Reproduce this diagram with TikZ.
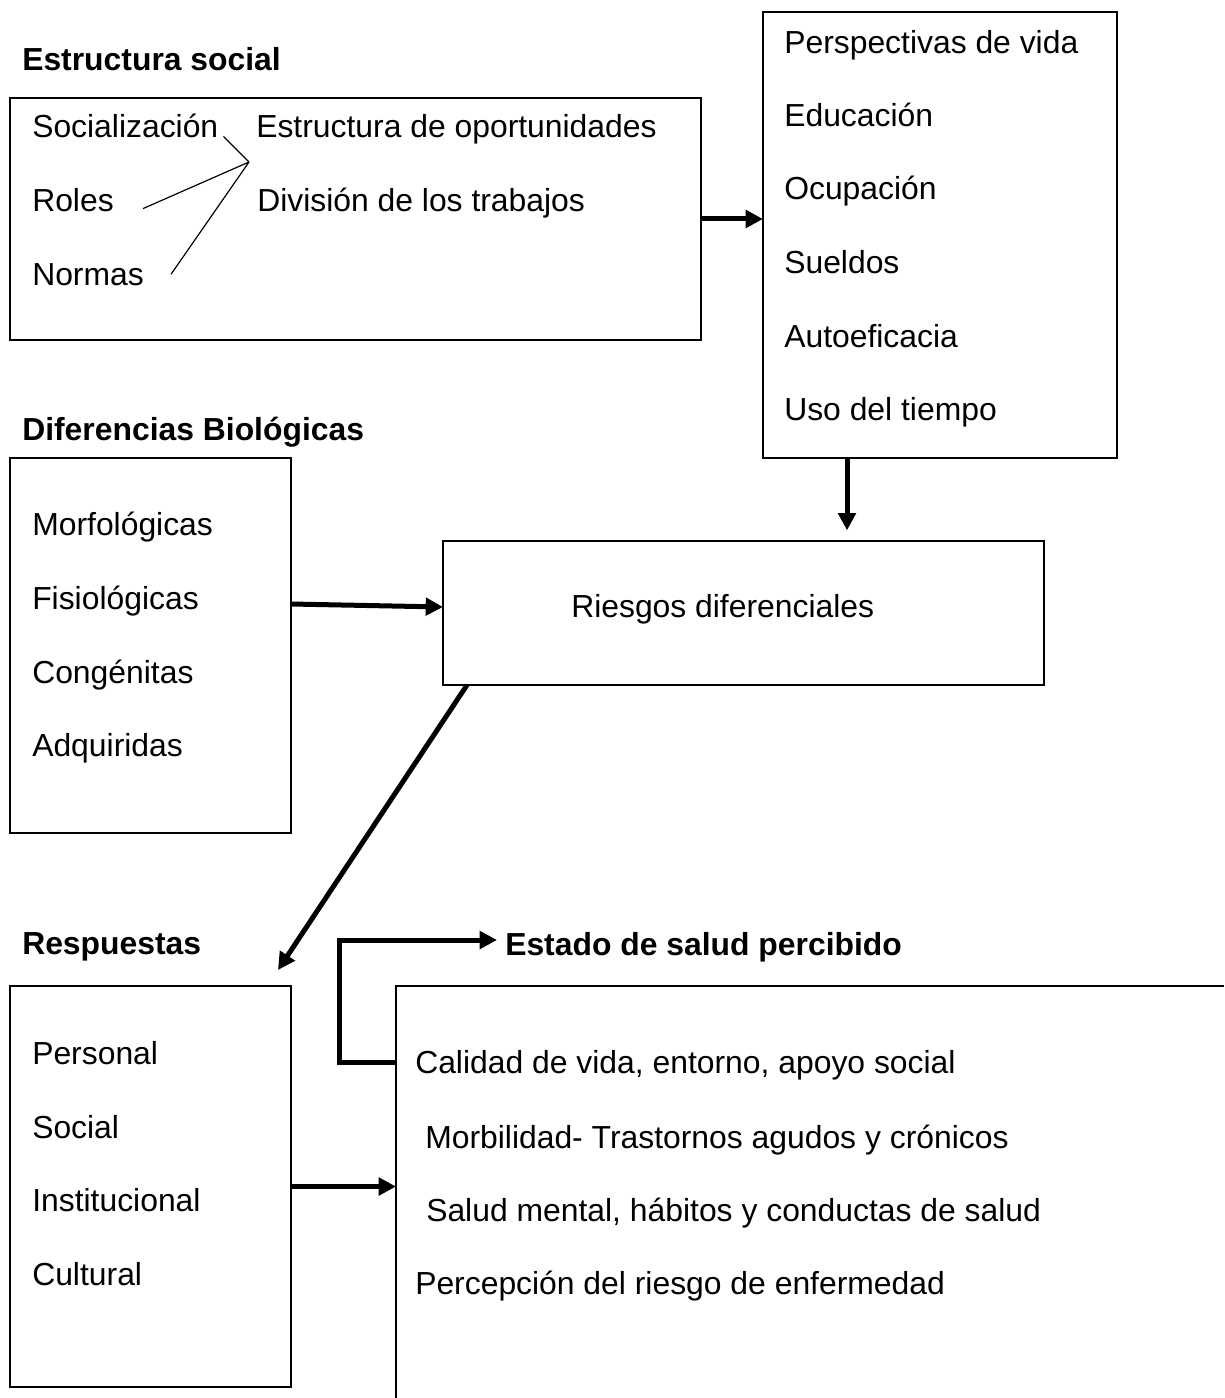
\documentclass[tikz,border=0pt]{standalone}
\usepackage{fontspec}
\setmainfont{Liberation Sans}
\usetikzlibrary{arrows.meta,calc}
\newcommand{\px}{0.75pt}

\begin{document}
\begin{tikzpicture}[x=0.75pt,y=0.75pt,yscale=-1,xscale=1]
\tikzset{
  box/.style={draw, line width=1.5pt, inner sep=0pt, outer sep=0pt, anchor=north west},
  lbl/.style={anchor=base west, inner sep=0pt, font=\fontsize{23.9}{28}\selectfont},
  hdr/.style={anchor=base west, inner sep=0pt, font=\fontsize{23.9}{28}\selectfont\bfseries},
  flow/.style={line width=3.75pt, -{Triangle[length=13pt,width=13pt]}},
  tie/.style={line width=0.9pt},
}
\useasboundingbox (0,0) rectangle (1224,1398);

%Shape: Rectangle [social]
\node [box, minimum width=691*\px, minimum height=242*\px] (social) at (10,98) {};
%Shape: Rectangle [perspectivas]
\node [box, minimum width=354*\px, minimum height=446*\px] (persp) at (763,12) {};
%Shape: Rectangle [biologicas]
\node [box, minimum width=281*\px, minimum height=375*\px] (dif) at (10,458) {};
%Shape: Rectangle [riesgos]
\node [box, minimum width=601*\px, minimum height=144*\px] (riesgos) at (443,541) {};
%Shape: Rectangle [respuestas]
\node [box, minimum width=281*\px, minimum height=401*\px] (resp) at (10,986) {};
%Shape: open box [salud]
\coordinate (saludNW) at (396,986);
\draw [line width=1.5pt] (1224,986) -- (saludNW) -- (396,1398);

% Text Node
\node [hdr] (hsocial) at (22,71) {Estructura social};
\node [lbl] (socz) at (32,138) {Socialización};
\node [lbl] (roles) at (32,212) {Roles};
\node [lbl] (normas) at (32,285) {Normas};
\node [lbl] (oport) at (256,138) {Estructura de oportunidades};
\node [lbl] (divis) at (257,212) {División de los trabajos};

% Text Node
\node [lbl] (pvida) at (784,54) {Perspectivas de vida};
\node [lbl] (educ) at (784,127) {Educación};
\node [lbl] (ocup) at (784,200) {Ocupación};
\node [lbl] (sueld) at (784,273) {Sueldos};
\node [lbl] (autoef) at (784,347) {Autoeficacia};
\node [lbl] (tiempo) at (784,420) {Uso del tiempo};

% Text Node
\node [hdr] (hbio) at (22,440) {Diferencias Biológicas};
\node [lbl] (morf) at (32,535) {Morfológicas};
\node [lbl] (fisio) at (32,609) {Fisiológicas};
\node [lbl] (cong) at (32,683) {Congénitas};
\node [lbl] (adq) at (32,756) {Adquiridas};

% Text Node
\node [lbl] (rtxt) at (571,617) {Riesgos diferenciales};

% Text Node
\node [hdr] (hresp) at (22,954) {Respuestas};
\node [hdr] (hestado) at (505,955) {Estado de salud percibido};
\node [lbl] (pers) at (32,1064) {Personal};
\node [lbl] (soci) at (32,1138) {Social};
\node [lbl] (inst) at (32,1211) {Institucional};
\node [lbl] (cult) at (32,1285) {Cultural};

% Text Node
\node [lbl] (calidad) at (415,1073) {Calidad de vida, entorno, apoyo social};
\node [lbl] (morb) at (425,1148) {Morbilidad- Trastornos agudos y crónicos};
\node [lbl] (mental) at (426,1221) {Salud mental, hábitos y conductas de salud};
\node [lbl] (percep) at (415,1294) {Percepción del riesgo de enfermedad};

%Straight Lines [ties]
\coordinate (tieApex) at (249,162);
\draw [tie] ($(socz.east)+(5,10)$) -- (tieApex);
\draw [tie] ($(roles.east)+(29,8)$) -- (tieApex);
\draw [tie] ($(normas.east)+(27,0)$) -- (tieApex);

%Arrows
\draw [flow] (social.east) -- (social.east -| persp.west);
\coordinate (perspOut) at ($(persp.south west)+(84,0)$);
\draw [flow, shorten >=8pt] (perspOut) -- (perspOut |- riesgos.north);
\coordinate (difOut) at ($(dif.north east)+(0,146)$);
\draw [flow] (difOut) -- ($(riesgos.west)+(0,-6)$);
\coordinate (riskOut) at ($(riesgos.south west)+(24,0)$);
\coordinate (respIn) at ($(resp.north west)+(268,-16)$);
\draw [flow] (riskOut) -- (respIn);
\draw [flow] (resp.east) -- (resp.east -| saludNW);
\coordinate (calOut) at ($(saludNW)+(0,76)$);
\coordinate (estadoIn) at ($(hestado.base west)+(-8,-15)$);
\draw [flow] (calOut) -- ++(-57,0) |- (estadoIn);
\end{tikzpicture}
\end{document}
